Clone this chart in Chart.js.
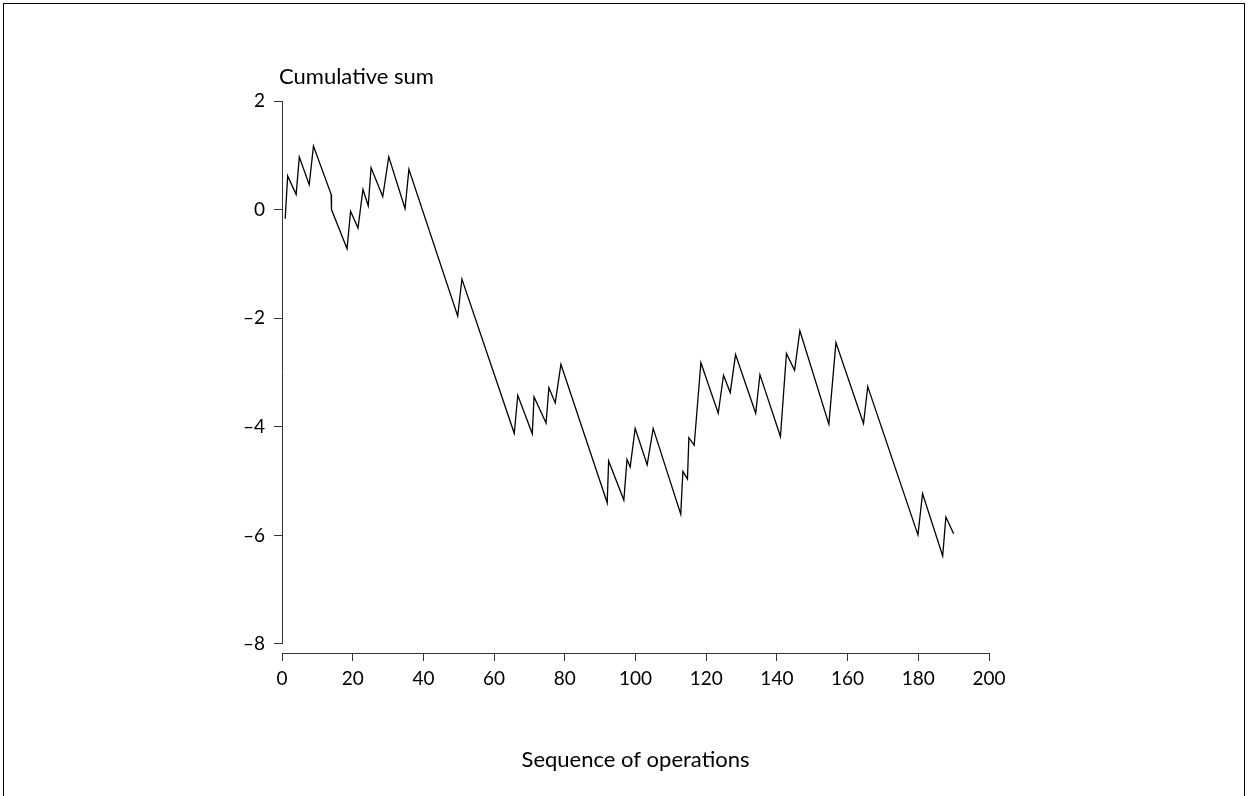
<!DOCTYPE html>
<html lang="en">
<head>
    <meta charset="UTF-8">
    <title>Cumulative sum</title>
    <script src="https://cdn.jsdelivr.net/npm/chart.js"></script>
    <style>
        html, body { margin: 0; padding: 0; background: #fff; }
        .frame {
            position: absolute; left: 3px; top: 3px; width: 1240px; height: 800px;
            border: 1px solid #000; border-bottom: none;
        }
        #chart { position: absolute; left: 0; top: 0; }
    </style>
</head>
<body>
    <div class="frame"></div>
    <canvas id="chart" width="1248" height="796"></canvas>

    <script>
        // operation index and cumulative sum
        const seq = [0.9, 1.6, 4.0, 4.9, 7.7, 8.9, 13.9, 14.0,
            18.4, 19.4, 21.5, 22.9, 24.4, 25.2, 28.5, 30.2, 34.8, 35.9,
            49.7, 50.9,
            65.7, 66.7, 70.8, 71.3, 74.7, 75.5, 77.3, 78.9,
            92.0, 92.4, 96.7, 97.6, 98.5, 99.9, 103.3, 105.0,
            112.8, 113.4, 114.7, 115.1, 116.6, 118.5,
            123.4, 124.9, 126.8, 128.3,
            134.0, 135.2, 141.0, 142.7, 145.0, 146.5,
            154.7, 156.7, 164.5, 165.7,
            179.9, 181.2, 186.9, 187.8, 190.0];
        const cusum = [-0.17, 0.62, 0.28, 0.97, 0.46, 1.17, 0.28, 0.0,
            -0.72, -0.03, -0.34, 0.37, 0.07, 0.77, 0.24, 0.97, 0.02, 0.74,
            -1.96, -1.28,
            -4.12, -3.42, -4.13, -3.45, -3.93, -3.28, -3.56, -2.85,
            -5.40, -4.63, -5.35, -4.60, -4.74, -4.03, -4.70, -4.03,
            -5.61, -4.82, -4.96, -4.20, -4.34, -2.82,
            -3.75, -3.05, -3.37, -2.67,
            -3.75, -3.04, -4.18, -2.65, -2.96, -2.23,
            -3.95, -2.45, -3.94, -3.26,
            -5.99, -5.23, -6.38, -5.66, -5.97];
        const yTicks = [-8, -6, -4, -2, 0, 2];
        const yTitle = "Cumulative sum";
        const xTitle = "Sequence of operations";

        const family = "Lato, 'Open Sans', sans-serif";
        const font = { family: family, size: 19 };
        const axisColor = '#333';

        // separate (offset) axis lines and the two titles
        const axesPlugin = {
            id: 'offsetAxes',
            afterDraw(chart) {
                const { ctx, chartArea } = chart;
                const x = chart.scales.x, y = chart.scales.y;
                ctx.save();
                ctx.strokeStyle = axisColor;
                ctx.lineWidth = 1;
                ctx.beginPath();
                ctx.moveTo(x.getPixelForValue(0), chartArea.bottom + 0.5);
                ctx.lineTo(x.getPixelForValue(200), chartArea.bottom + 0.5);
                ctx.moveTo(chartArea.left + 0.5, y.getPixelForValue(yTicks[yTicks.length - 1]));
                ctx.lineTo(chartArea.left + 0.5, y.getPixelForValue(yTicks[0]));
                ctx.stroke();

                ctx.fillStyle = '#000';
                ctx.font = '22px ' + family;
                ctx.textBaseline = 'middle';
                ctx.textAlign = 'left';
                ctx.fillText(yTitle, chartArea.left - 3, y.getPixelForValue(2) - 24);
                ctx.textAlign = 'center';
                ctx.fillText(xTitle, (x.getPixelForValue(0) + x.getPixelForValue(200)) / 2, 760);
                ctx.restore();
            }
        };

        new Chart(document.getElementById('chart'), {
            type: 'line',
            data: {
                datasets: [{
                    data: seq.map((v, i) => ({ x: v, y: cusum[i] })),
                    borderColor: '#000',
                    borderWidth: 1.3,
                    pointRadius: 0,
                    tension: 0,
                    fill: false
                }]
            },
            options: {
                responsive: false,
                animation: false,
                layout: { padding: { left: 222, top: 101, right: 259, bottom: 103 } },
                plugins: {
                    legend: { display: false },
                    tooltip: { enabled: false }
                },
                scales: {
                    x: {
                        type: 'linear',
                        min: 0,
                        max: 200,
                        ticks: { stepSize: 20, color: '#000', font: font, padding: 6, maxRotation: 0 },
                        grid: { drawOnChartArea: false, drawTicks: true, tickLength: 8, color: axisColor },
                        border: { display: false },
                        afterFit(scale) { scale.height = 40; }
                    },
                    y: {
                        type: 'linear',
                        min: -8.166,
                        max: 2,
                        afterBuildTicks(scale) { scale.ticks = yTicks.map(v => ({ value: v })); },
                        ticks: {
                            color: '#000', font: font, padding: 9,
                            callback: v => String(v).replace('-', '\u2013')
                        },
                        grid: { drawOnChartArea: false, drawTicks: true, tickLength: 8, color: axisColor },
                        border: { display: false },
                        afterFit(scale) { scale.width = 60; }
                    }
                }
            },
            plugins: [axesPlugin]
        });
    </script>
</body>
</html>
